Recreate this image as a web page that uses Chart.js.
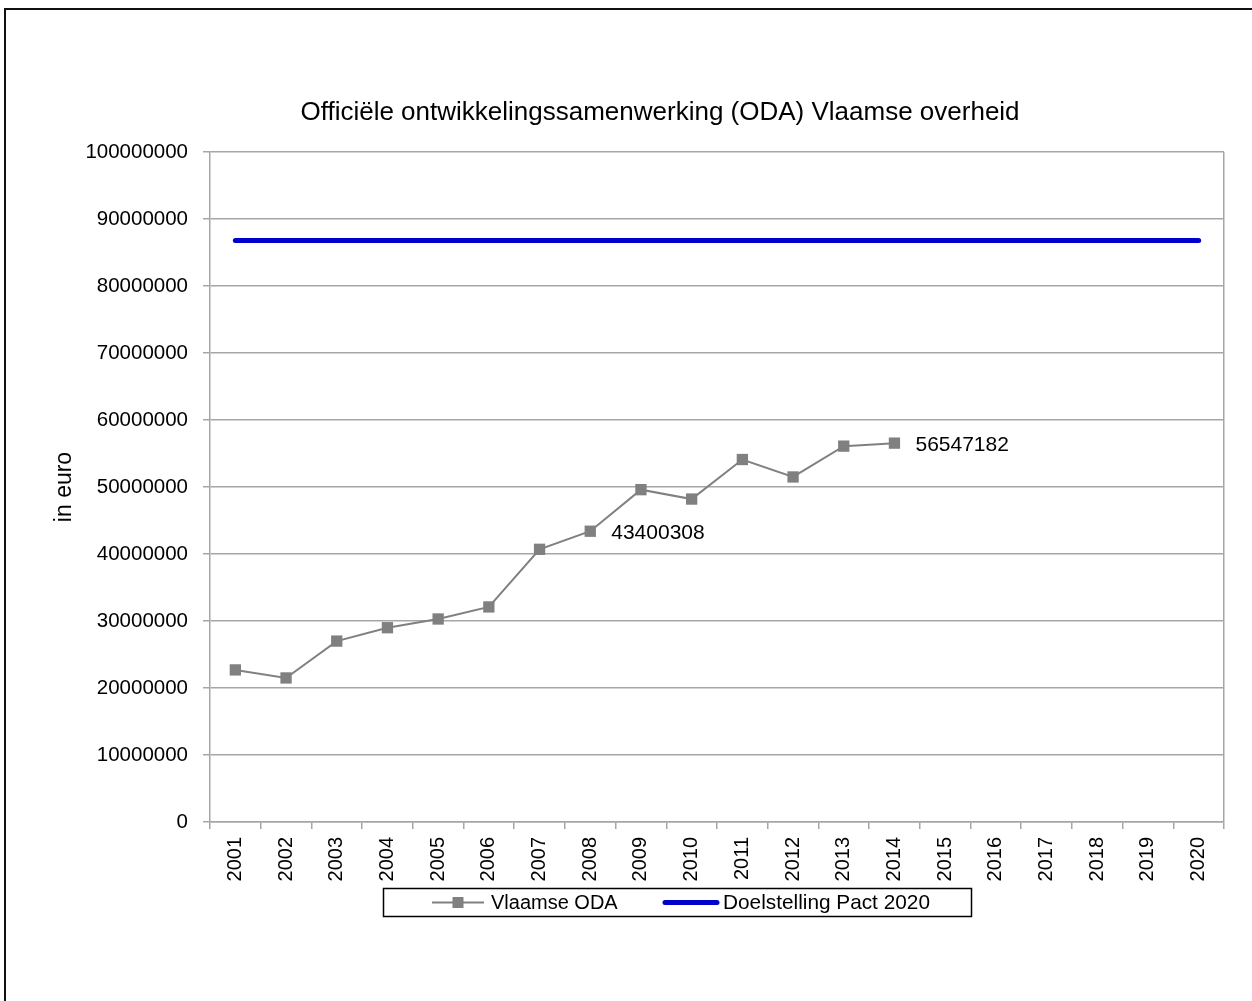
<!DOCTYPE html>
<html>
<head>
<meta charset="utf-8">
<script src="https://cdn.jsdelivr.net/npm/chart.js@4.4.1/dist/chart.umd.min.js"></script>
<style>
  html, body { margin: 0; padding: 0; background: #ffffff; }
  canvas { display: block; }
</style>
</head>
<body>
<canvas id="c" width="1252" height="1001"></canvas>
<script>
// ---- data ----
const categories = ['2001','2002','2003','2004','2005','2006','2007','2008','2009','2010',
                    '2011','2012','2013','2014','2015','2016','2017','2018','2019','2020'];
const vlaamseODA = [22700000, 21500000, 27000000, 29000000, 30300000, 32100000, 40700000,
                    43400308, 49600000, 48200000, 54100000, 51500000, 56100000, 56547182,
                    null, null, null, null, null, null];
const doelstelling = [86800000, 86800000, 86800000, 86800000, 86800000, 86800000, 86800000,
                      86800000, 86800000, 86800000, 86800000, 86800000, 86800000, 86800000,
                      86800000, 86800000, 86800000, 86800000, 86800000, 86800000];
const labelledIndices = [7, 13];
const seriesNames = ['Vlaamse ODA', 'Doelstelling Pact 2020'];
const chartTitle = 'Officiële ontwikkelingssamenwerking (ODA) Vlaamse overheid';
const yAxisTitle = 'in euro';
const yMin = 0, yMax = 100000000, yStep = 10000000;

// ---- styles ----
const FONT = "'Liberation Sans', Arial, sans-serif";
const GRID = '#a6a6a6';
const GRAY = '#808080';
const BLUE = '#0000cc';

const framePlugin = {
  id: 'frame',
  beforeDraw(chart) {
    const ctx = chart.ctx;
    ctx.save();
    ctx.fillStyle = '#ffffff';
    ctx.fillRect(0, 0, chart.width, chart.height);
    ctx.strokeStyle = '#111111';
    ctx.lineWidth = 2;
    ctx.beginPath();
    ctx.moveTo(5, chart.height + 5);
    ctx.lineTo(5, 9);
    ctx.lineTo(chart.width + 5, 9);
    ctx.stroke();
    ctx.restore();
  },
  afterDraw(chart) {
    const ctx = chart.ctx;
    ctx.save();
    // title
    ctx.fillStyle = '#000000';
    ctx.font = '26px ' + FONT;
    ctx.textAlign = 'center';
    ctx.textBaseline = 'middle';
    ctx.fillText(chartTitle, 660, 113);
    // legend
    const lx = 383.5, ly = 888.5, lw = 588, lh = 28;
    ctx.strokeStyle = '#000000';
    ctx.lineWidth = 1.5;
    ctx.strokeRect(lx, ly, lw, lh);
    const cy = ly + lh / 2;
    ctx.strokeStyle = GRAY;
    ctx.lineWidth = 2;
    ctx.beginPath();
    ctx.moveTo(432, cy); ctx.lineTo(484, cy);
    ctx.stroke();
    ctx.fillStyle = GRAY;
    ctx.fillRect(452.5, cy - 5.5, 11, 11);
    ctx.strokeStyle = BLUE;
    ctx.lineWidth = 5;
    ctx.lineCap = 'round';
    ctx.beginPath();
    ctx.moveTo(665, cy); ctx.lineTo(717, cy);
    ctx.stroke();
    ctx.fillStyle = '#000000';
    ctx.font = '20px ' + FONT;
    ctx.textAlign = 'left';
    ctx.textBaseline = 'middle';
    ctx.fillText(seriesNames[0], 491, cy + 1);
    ctx.font = '20.8px ' + FONT;
    ctx.fillText(seriesNames[1], 723, cy + 1);
    ctx.restore();
  },
  afterDatasetsDraw(chart) {
    const ctx = chart.ctx;
    const meta = chart.getDatasetMeta(0);
    ctx.save();
    ctx.fillStyle = '#000000';
    ctx.font = '21px ' + FONT;
    ctx.textAlign = 'left';
    ctx.textBaseline = 'middle';
    labelledIndices.forEach(i => {
      const pt = meta.data[i];
      ctx.fillText(String(vlaamseODA[i]), pt.x + 21, pt.y + 2);
    });
    ctx.restore();
  }
};

new Chart(document.getElementById('c'), {
  type: 'line',
  data: {
    labels: categories,
    datasets: [
      {
        label: seriesNames[0],
        data: vlaamseODA,
        borderColor: GRAY,
        backgroundColor: GRAY,
        borderWidth: 2,
        pointStyle: 'rect',
        pointRadius: 8,
        pointBorderWidth: 0,
        pointBackgroundColor: GRAY,
        tension: 0,
        spanGaps: false
      },
      {
        label: seriesNames[1],
        data: doelstelling,
        borderColor: BLUE,
        backgroundColor: BLUE,
        borderWidth: 5,
        borderCapStyle: 'round',
        pointRadius: 0,
        tension: 0
      }
    ]
  },
  options: {
    responsive: false,
    animation: false,
    devicePixelRatio: 1,
    layout: { padding: { left: 0, top: 152, right: 28, bottom: 0 } },
    plugins: {
      legend: { display: false },
      title: { display: false },
      tooltip: { enabled: false }
    },
    scales: {
      x: {
        type: 'category',
        offset: true,
        grid: {
          offset: true,
          drawOnChartArea: true,
          color: (ctx) => ctx.type === 'tick' ? 'rgba(0,0,0,0)' : GRID,
          tickColor: GRID,
          tickLength: 7,
          lineWidth: 1.5
        },
        border: { color: GRID, width: 1.5 },
        ticks: {
          autoSkip: false,
          maxRotation: 90,
          minRotation: 90,
          padding: 8,
          color: '#000000',
          font: { family: FONT, size: 20 }
        },
        afterFit(scale) { scale.height = 179; }
      },
      y: {
        min: yMin,
        max: yMax,
        grid: {
          color: GRID,
          tickColor: GRID,
          tickLength: 7,
          lineWidth: 1.5
        },
        border: { color: GRID, width: 1.5 },
        ticks: {
          stepSize: yStep,
          padding: 15,
          color: '#000000',
          font: { family: FONT, size: 20.5 },
          callback: (v) => String(v)
        },
        title: {
          display: true,
          text: yAxisTitle,
          color: '#000000',
          font: { family: FONT, size: 23 },
          padding: { top: 51, bottom: 0 }
        },
        afterFit(scale) { scale.width = 210; }
      }
    }
  },
  plugins: [framePlugin]
});
</script>
</body>
</html>
